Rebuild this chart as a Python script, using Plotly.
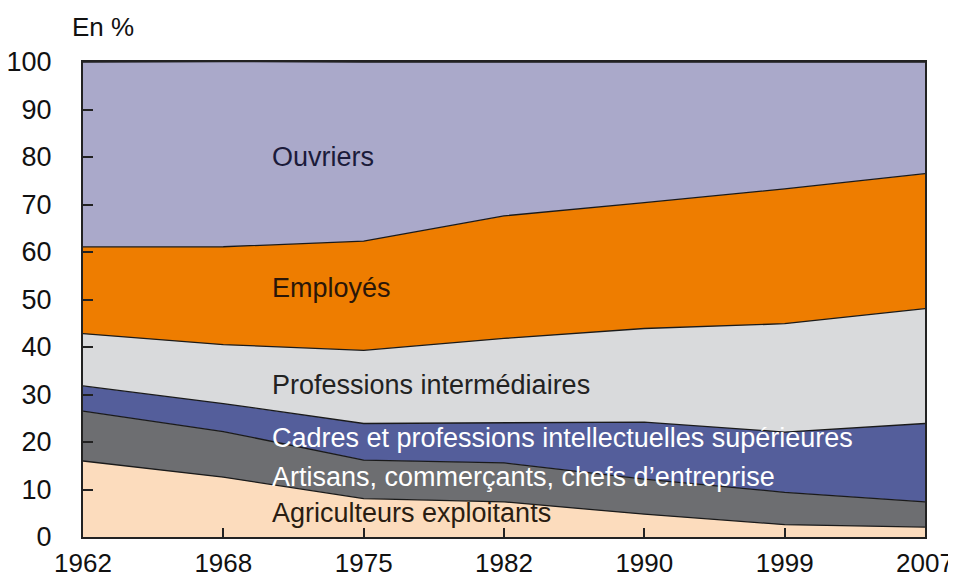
import plotly.graph_objects as go

# Population active occupée par catégorie socioprofessionnelle (en %)
years = ["1962", "1968", "1975", "1982", "1990", "1999", "2007"]

agriculteurs = [16.0, 12.6, 8.1, 7.4, 4.8, 2.6, 2.1]
artisans = [10.5, 9.6, 8.1, 8.2, 7.4, 6.8, 5.3]
cadres = [5.3, 5.9, 7.7, 8.4, 12.0, 12.7, 16.5]
prof_inter = [11.0, 12.4, 15.4, 17.8, 19.7, 22.8, 24.2]
employes = [18.3, 20.6, 23.0, 25.8, 26.5, 28.4, 28.4]
ouvriers = [38.9, 39.0, 37.7, 32.4, 29.6, 26.7, 23.5]

y_ticks = [0, 10, 20, 30, 40, 50, 60, 70, 80, 90, 100]

FONT = "Liberation Sans, Arial, Helvetica, sans-serif"

series = [
    ("Agriculteurs exploitants", agriculteurs, "#fcdcbd", "#2a1d12"),
    ("Artisans, commerçants, chefs d\u2019entreprise", artisans, "#6d6e71", "white"),
    ("Cadres et professions intellectuelles supérieures", cadres, "#545e9b", "white"),
    ("Professions intermédiaires", prof_inter, "#d9dadc", "#222222"),
    ("Employés", employes, "#ee7d00", "#2a1608"),
    ("Ouvriers", ouvriers, "#aaa9ca", "#1b1b3a"),
]

# label positions (value axis) for the text written inside each band
label_y = [5.0, 12.7, 20.8, 32.0, 52.4, 80.1]

fig = go.Figure()

for name, vals, color, _ in series:
    fig.add_trace(go.Scatter(
        x=years,
        y=vals,
        name=name,
        mode="lines",
        stackgroup="one",
        line=dict(color="#1a1a1a", width=1.3),
        fillcolor=color,
        hovertemplate=name + "<br>%{x} : %{y:.1f} %<extra></extra>",
    ))

for (name, vals, color, txtcolor), ly in zip(series, label_y):
    fig.add_annotation(
        text=name,
        xref="paper", yref="y",
        x=0.222, y=ly,
        xanchor="left", yanchor="middle",
        showarrow=False,
        font=dict(family=FONT, size=27, color=txtcolor),
    )

fig.add_annotation(
    text="En %",
    xref="paper", yref="paper",
    x=-0.016, y=1.074,
    xanchor="left", yanchor="middle",
    showarrow=False,
    font=dict(family=FONT, size=26, color="#111111"),
)

# the page body adds an 8px margin, so the figure is sized to fit inside it
fig.update_layout(
    width=948,
    height=571,
    showlegend=False,
    plot_bgcolor="white",
    paper_bgcolor="white",
    margin=dict(l=75, r=31, t=54, b=42),
    font=dict(family=FONT, size=27, color="#111111"),
    xaxis=dict(
        type="category",
        range=[0, len(years) - 1],
        automargin=False,
        showgrid=False,
        zeroline=False,
        showline=True,
        linecolor="#222222",
        linewidth=2,
        mirror=True,
        ticks="inside",
        ticklen=9,
        tickwidth=2,
        tickcolor="#222222",
        ticklabelstandoff=2,
        tickfont=dict(family=FONT, size=26, color="#111111"),
    ),
    yaxis=dict(
        range=[0, 100],
        tickvals=y_ticks,
        automargin=False,
        showgrid=False,
        zeroline=False,
        showline=True,
        linecolor="#222222",
        linewidth=2,
        mirror=True,
        ticks="inside",
        ticklen=10,
        tickwidth=2,
        tickcolor="#222222",
        ticklabelstandoff=24,
        tickfont=dict(family=FONT, size=27, color="#111111"),
    ),
)

fig.write_html("out.html")
